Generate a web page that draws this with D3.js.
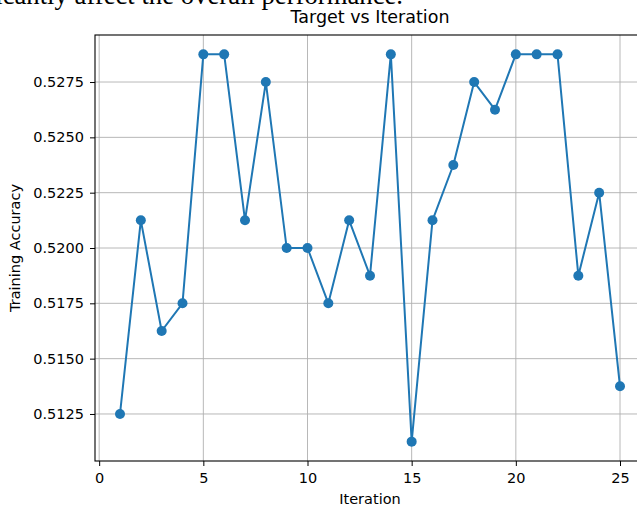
<!DOCTYPE html>
<html>
<head>
<meta charset="utf-8">
<script src="https://cdn.jsdelivr.net/npm/d3@7"></script>
<style>
  html, body { margin: 0; padding: 0; background: #fff; overflow: hidden; }
  svg { display: block; }
</style>
</head>
<body>
<svg id="chart" width="637" height="507"></svg>
<script>
// Training accuracy recorded at each optimisation iteration
const iterations = [1, 2, 3, 4, 5, 6, 7, 8, 9, 10, 11, 12, 13, 14, 15, 16, 17, 18, 19, 20, 21, 22, 23, 24, 25];
const accuracy = [0.5125, 0.52125, 0.51625, 0.5175, 0.52875, 0.52875, 0.52125, 0.5275, 0.52, 0.52,
                  0.5175, 0.52125, 0.51875, 0.52875, 0.51125, 0.52125, 0.52375, 0.5275, 0.52625, 0.52875,
                  0.52875, 0.52875, 0.51875, 0.5225, 0.51375];
const xTicks = [0, 5, 10, 15, 20, 25];
const yTicks = [0.5125, 0.5150, 0.5175, 0.5200, 0.5225, 0.5250, 0.5275];

const svg = d3.select("#chart");
const font = "'DejaVu Sans', sans-serif";
const tickFont = 14.5;

// Plot area
const plotL = 95, plotT = 35, plotR = 645, plotB = 461;

// 5% padding around the data range on both axes
const xMin = d3.min(iterations), xMax = d3.max(iterations);
const yMin = d3.min(accuracy), yMax = d3.max(accuracy);
const xPad = (xMax - xMin) * 0.05, yPad = (yMax - yMin) * 0.05;

const x = d3.scaleLinear().domain([xMin - xPad, xMax + xPad]).range([plotL, plotR]);
const y = d3.scaleLinear().domain([yMin - yPad, yMax + yPad]).range([plotB, plotT]);

// Text line above the figure
svg.append("text")
  .attr("x", 403).attr("y", 4)
  .attr("text-anchor", "end")
  .attr("font-family", "'Liberation Serif', 'Times New Roman', serif")
  .attr("font-size", 26.7)
  .attr("fill", "#000")
  .text("significantly affect the overall performance.");

// Grid
const grid = svg.append("g").attr("stroke", "#b0b0b0").attr("stroke-width", 0.9);
grid.selectAll(".gx").data(xTicks).join("line")
  .attr("x1", d => x(d)).attr("x2", d => x(d))
  .attr("y1", plotT).attr("y2", plotB);
grid.selectAll(".gy").data(yTicks).join("line")
  .attr("x1", plotL).attr("x2", plotR)
  .attr("y1", d => y(d)).attr("y2", d => y(d));

// Axes
const xAxis = d3.axisBottom(x).tickValues(xTicks).tickFormat(d3.format("d")).tickSizeInner(5).tickSizeOuter(0).tickPadding(7);
const yAxis = d3.axisLeft(y).tickValues(yTicks).tickFormat(d3.format(".4f")).tickSizeInner(5).tickSizeOuter(0).tickPadding(6);

const gx = svg.append("g").attr("transform", `translate(0,${plotB})`).call(xAxis);
const gy = svg.append("g").attr("transform", `translate(${plotL},0)`).call(yAxis);
[gx, gy].forEach(g => {
  g.selectAll("text").attr("font-family", font).attr("font-size", tickFont).attr("fill", "#000");
  g.selectAll("line").attr("stroke", "#000").attr("stroke-width", 1);
  g.select(".domain").remove();
});

// Spines
svg.append("rect")
  .attr("x", plotL).attr("y", plotT)
  .attr("width", plotR - plotL).attr("height", plotB - plotT)
  .attr("fill", "none").attr("stroke", "#000").attr("stroke-width", 1.1);

// Series line and markers
const pts = iterations.map((d, i) => [d, accuracy[i]]);
svg.append("path")
  .datum(pts)
  .attr("fill", "none")
  .attr("stroke", "#1f77b4")
  .attr("stroke-width", 2)
  .attr("stroke-linejoin", "round")
  .attr("d", d3.line().x(d => x(d[0])).y(d => y(d[1])));

svg.append("g").selectAll("circle").data(pts).join("circle")
  .attr("cx", d => x(d[0])).attr("cy", d => y(d[1]))
  .attr("r", 5)
  .attr("fill", "#1f77b4");

// Titles
svg.append("text")
  .attr("x", (plotL + plotR) / 2).attr("y", 23)
  .attr("text-anchor", "middle")
  .attr("font-family", font).attr("font-size", 17.5).attr("fill", "#000")
  .text("Target vs Iteration");

svg.append("text")
  .attr("x", (plotL + plotR) / 2).attr("y", 504)
  .attr("text-anchor", "middle")
  .attr("font-family", font).attr("font-size", tickFont).attr("fill", "#000")
  .text("Iteration");

svg.append("text")
  .attr("transform", `translate(20,${(plotT + plotB) / 2}) rotate(-90)`)
  .attr("text-anchor", "middle")
  .attr("font-family", font).attr("font-size", tickFont).attr("fill", "#000")
  .text("Training Accuracy");
</script>
</body>
</html>
